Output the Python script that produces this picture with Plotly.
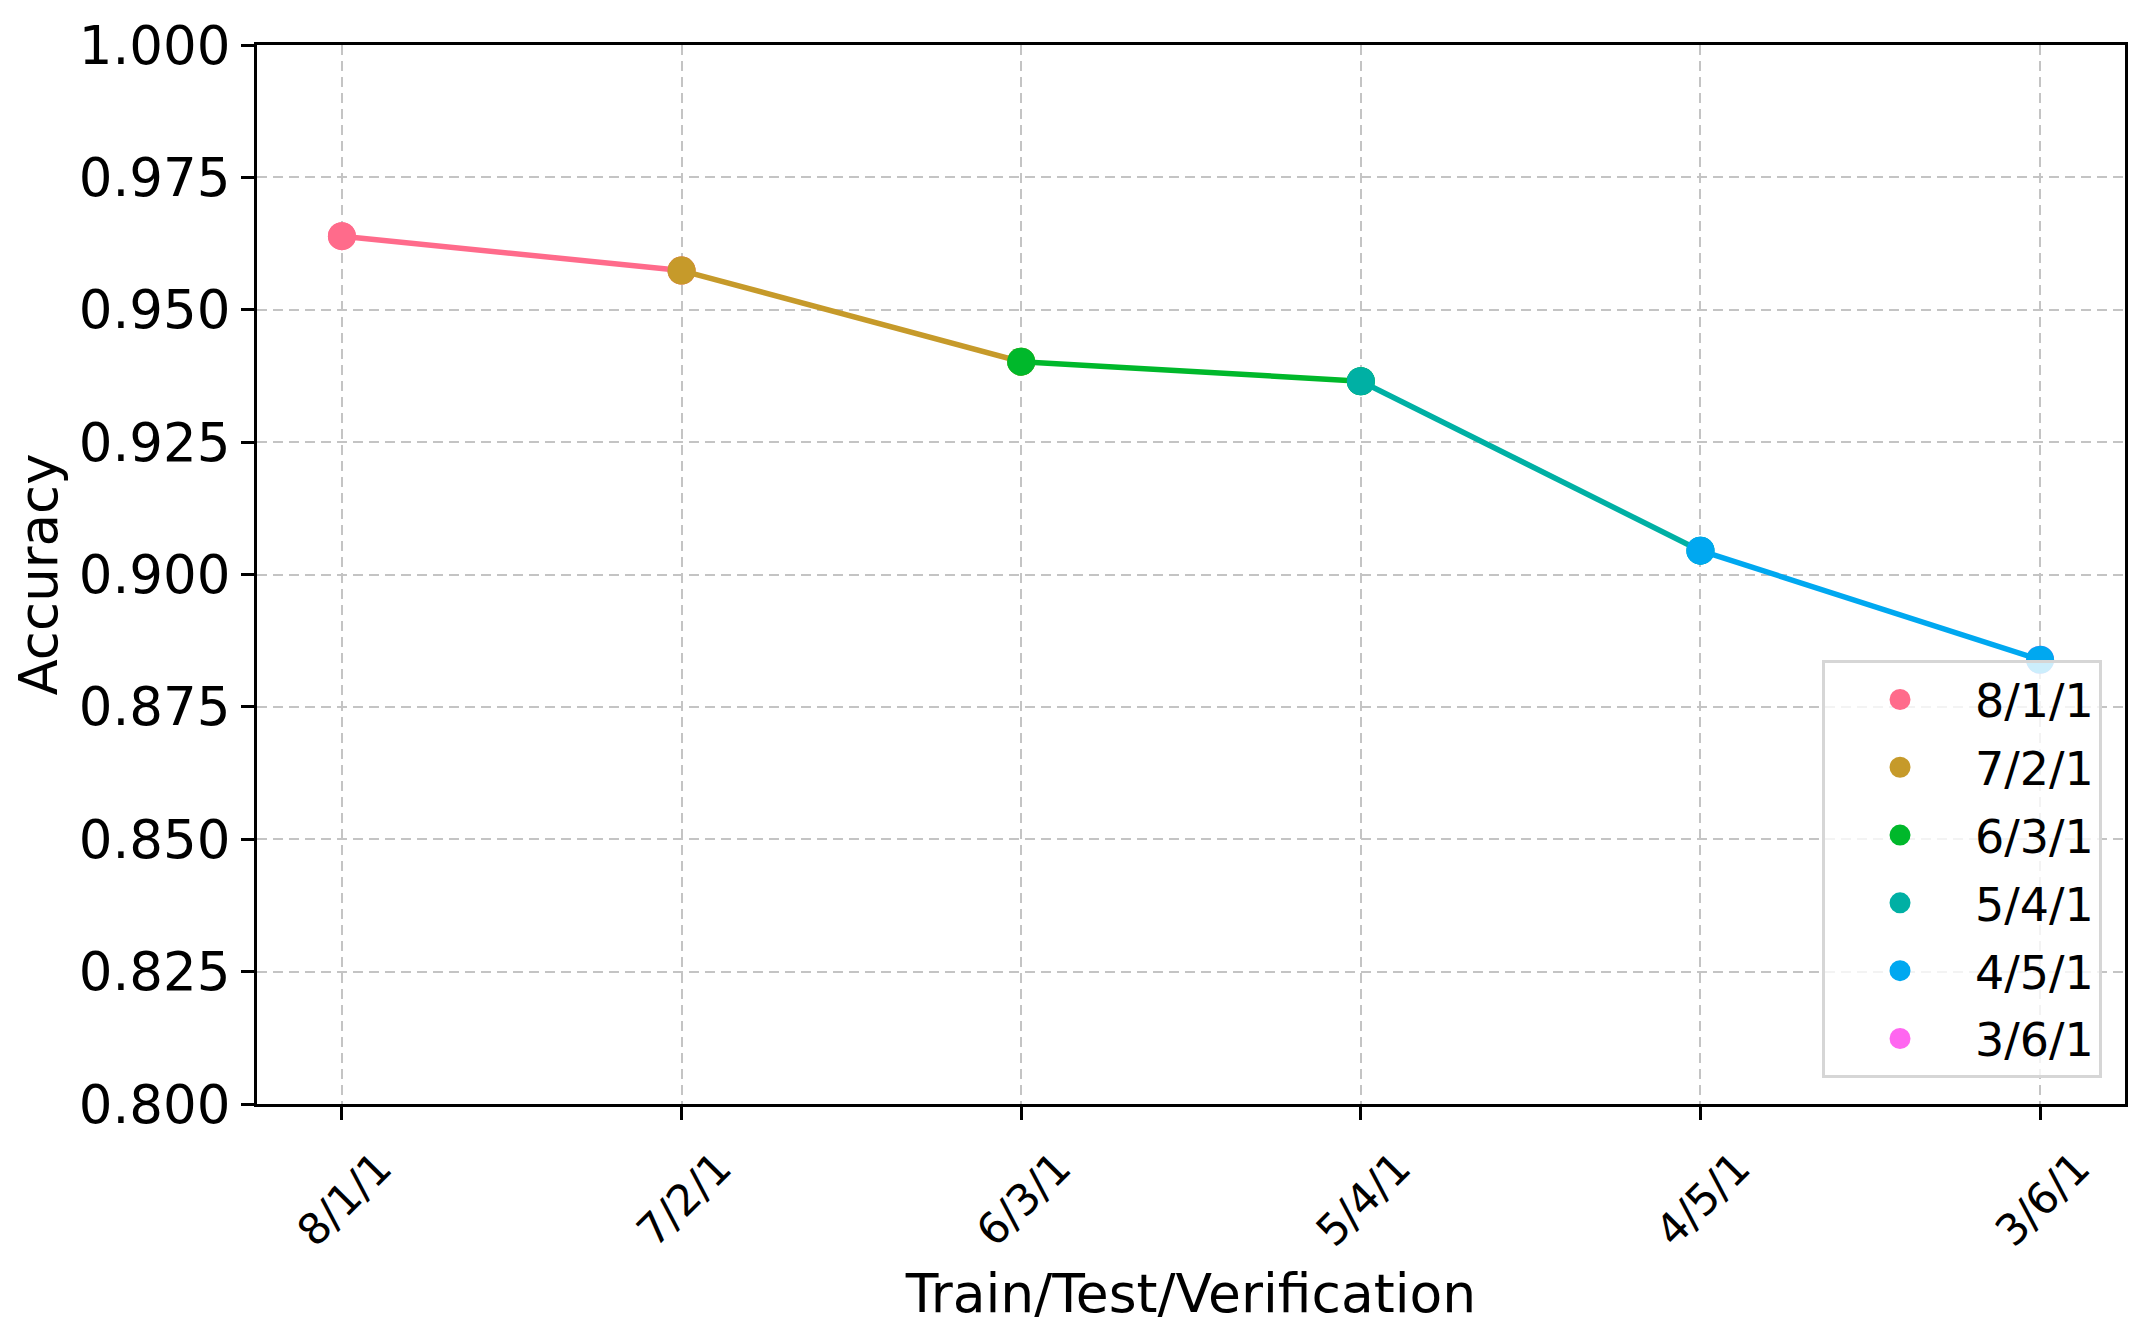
import plotly.graph_objects as go

categories = ["8/1/1", "7/2/1", "6/3/1", "5/4/1", "4/5/1", "3/6/1"]
accuracy = [0.9639, 0.9574, 0.9402, 0.9365, 0.9045, 0.8839]
colors = ["#FF6B8B", "#C69A2A", "#00B82B", "#00B0A4", "#00A8F0", "#FF66F0"]
y_ticks = [0.800, 0.825, 0.850, 0.875, 0.900, 0.925, 0.950, 0.975, 1.000]

FONT = "DejaVu Sans"
fig = go.Figure()

# legend / point markers (underneath)
for cat, val, col in zip(categories, accuracy, colors):
    fig.add_trace(go.Scatter(
        x=[cat], y=[val], mode="markers", name=cat, legendgroup=cat,
        marker=dict(color=col, size=23, line=dict(width=5, color=col)),
        showlegend=True,
    ))

# segments, coloured by their starting point
for i in range(len(categories) - 1):
    fig.add_trace(go.Scatter(
        x=[categories[i], categories[i + 1]],
        y=[accuracy[i], accuracy[i + 1]],
        mode="lines+markers",
        line=dict(color=colors[i], width=5.5),
        marker=dict(color=colors[i], size=28, line=dict(width=0)),
        showlegend=False, hoverinfo="skip",
    ))

axis_common = dict(
    showline=True, linecolor="black", linewidth=3, mirror=True,
    ticks="outside", ticklen=13, tickwidth=3, tickcolor="black",
    showgrid=True, gridcolor="#c4c4c4", gridwidth=2, griddash="10px,6px",
    zeroline=False, automargin=True,
)

fig.update_xaxes(
    type="category", categoryorder="array", categoryarray=categories,
    range=[-0.25, 5.25],
    tickangle=-45, tickfont=dict(family=FONT, size=43, color="black"),
    ticklabelshift=37, ticklabelstandoff=5,
    title=dict(text="Train/Test/Verification", font=dict(family=FONT, size=53.5, color="black"), standoff=20),
    **axis_common,
)
fig.update_yaxes(
    range=[0.8, 1.0], tickvals=y_ticks, tickformat=".3f",
    tickfont=dict(family=FONT, size=53, color="black"),
    ticklabelstandoff=0,
    title=dict(text="Accuracy", font=dict(family=FONT, size=53, color="black"), standoff=25),
    **axis_common,
)

fig.update_layout(
    width=2138, height=1322,
    margin=dict(l=249, r=21, t=37, b=226, autoexpand=False),
    plot_bgcolor="white", paper_bgcolor="white",
    font=dict(family=FONT, color="black"),
    legend=dict(
        x=0.9877, y=0.0245, xanchor="right", yanchor="bottom",
        bgcolor="rgba(255,255,255,0.8)", bordercolor="#d6d6d6", borderwidth=3,
        font=dict(family=FONT, size=46, color="black"),
        itemwidth=140, tracegroupgap=5,
    ),
)

fig.write_html("out.html")
